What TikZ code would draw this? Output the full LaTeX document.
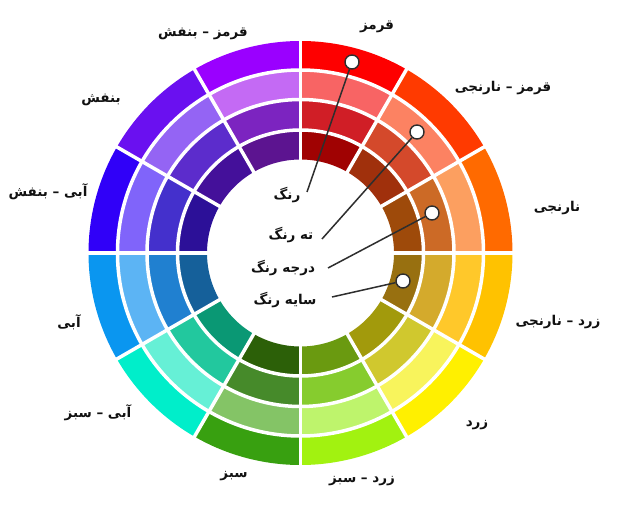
\documentclass[tikz,border=0pt]{standalone}
\usepackage{fontspec}
\newfontfamily\fa[Script=Arabic]{DejaVu Sans}
\TeXXeTstate=1
\definecolor{A1}{HTML}{FE0000}\definecolor{A2}{HTML}{F86464}\definecolor{A3}{HTML}{D01E26}\definecolor{A4}{HTML}{A00202}
\definecolor{B1}{HTML}{FF3A00}\definecolor{B2}{HTML}{FC8262}\definecolor{B3}{HTML}{D4492B}\definecolor{B4}{HTML}{A0300C}
\definecolor{C1}{HTML}{FF6A00}\definecolor{C2}{HTML}{FC9F60}\definecolor{C3}{HTML}{CC6A26}\definecolor{C4}{HTML}{9E4A0A}
\definecolor{D1}{HTML}{FFC200}\definecolor{D2}{HTML}{FFC82A}\definecolor{D3}{HTML}{D4AA2C}\definecolor{D4}{HTML}{987010}
\definecolor{E1}{HTML}{FFF000}\definecolor{E2}{HTML}{F8F45C}\definecolor{E3}{HTML}{D0C82E}\definecolor{E4}{HTML}{A29A0C}
\definecolor{F1}{HTML}{A2F210}\definecolor{F2}{HTML}{BEF46C}\definecolor{F3}{HTML}{86CC2E}\definecolor{F4}{HTML}{6A9A10}
\definecolor{G1}{HTML}{38A010}\definecolor{G2}{HTML}{84C466}\definecolor{G3}{HTML}{468A2A}\definecolor{G4}{HTML}{2C6008}
\definecolor{H1}{HTML}{00EECA}\definecolor{H2}{HTML}{66F0D6}\definecolor{H3}{HTML}{22C89E}\definecolor{H4}{HTML}{0A9874}
\definecolor{I1}{HTML}{0A96F0}\definecolor{I2}{HTML}{5CB4F4}\definecolor{I3}{HTML}{2080D0}\definecolor{I4}{HTML}{15609A}
\definecolor{J1}{HTML}{3000F8}\definecolor{J2}{HTML}{8064FA}\definecolor{J3}{HTML}{4430CC}\definecolor{J4}{HTML}{2C1098}
\definecolor{K1}{HTML}{6A10F0}\definecolor{K2}{HTML}{9464F4}\definecolor{K3}{HTML}{5C2CCC}\definecolor{K4}{HTML}{44109A}
\definecolor{L1}{HTML}{9A00FF}\definecolor{L2}{HTML}{C46AF4}\definecolor{L3}{HTML}{7C24C0}\definecolor{L4}{HTML}{5C1490}
\definecolor{ink}{HTML}{111111}
\definecolor{leadc}{HTML}{2E2E2E}
\begin{document}
\begin{tikzpicture}[x=1pt,y=1pt,
  lbl/.style={font=\fa\bfseries\fontsize{13.5}{15}\selectfont, text=ink, inner sep=0pt},
  dot/.style={circle, draw=leadc, fill=white, line width=1.4pt, minimum size=14pt, inner sep=0pt},
  lead/.style={draw=leadc, line width=1.5pt},
  gap/.style={draw=white, line width=3.5pt}]
\useasboundingbox (0,0) rectangle (624,520);
\fill[white] (0,0) rectangle (624,520);
\begin{scope}[shift={(300.5,267)}]
\foreach \s/\a in {A/60,B/30,C/0,D/-30,E/-60,F/-90,G/-120,H/-150,I/-180,J/150,K/120,L/90}{
  \pgfmathsetmacro\b{\a+30}
  \foreach \k/\r/\R in {1/183/212,2/153.5/183,3/123/153.5,4/93.5/123}{
    \fill[\s\k] (\a:\r pt) -- (\a:\R pt) arc[start angle=\a, end angle=\b, radius=\R pt] -- (\b:\r pt) arc[start angle=\b, end angle=\a, radius=\r pt] -- cycle;
  }
}
\foreach \r in {123,153.5,183} \draw[gap] (0,0) circle[radius=\r pt];
\foreach \a in {0,30,...,330} \draw[gap] (\a:92pt) -- (\a:213pt);
\end{scope}
% outer labels
\node[lbl] (t1) at (377,493) {\beginR قرمز\endR};
\node[lbl] (t2) at (503,432) {\beginR قرمز – نارنجی\endR};
\node[lbl] (t3) at (557,312) {\beginR نارنجی\endR};
\node[lbl] (t4) at (558,198) {\beginR زرد – نارنجی\endR};
\node[lbl] (t5) at (477,95) {\beginR زرد\endR};
\node[lbl] (t6) at (362,39) {\beginR زرد – سبز\endR};
\node[lbl] (t7) at (234,44) {\beginR سبز\endR};
\node[lbl] (t8) at (98,107) {\beginR آبی – سبز\endR};
\node[lbl] (t9) at (69,198) {\beginR آبی\endR};
\node[lbl] (t10) at (48,328) {\beginR آبی – بنفش\endR};
\node[lbl] (t11) at (101,420) {\beginR بنفش\endR};
\node[lbl] (t12) at (203,486) {\beginR قرمز – بنفش\endR};
% centre labels
\node[lbl] (h1) at (287,325) {\beginR رنگ\endR};
\node[lbl] (h2) at (291,285) {\beginR ته رنگ\endR};
\node[lbl] (h3) at (283,252) {\beginR درجه رنگ\endR};
\node[lbl] (h4) at (285,220) {\beginR سایه رنگ\endR};
% markers
\node[dot] (c1) at (352,458) {};
\node[dot] (c2) at (417,388) {};
\node[dot] (c3) at (432,307) {};
\node[dot] (c4) at (403,239) {};
\coordinate (e1) at (307,328);
\coordinate (e2) at (322,281);
\coordinate (e3) at (328,252);
\coordinate (e4) at (332,223);
\draw[lead] (e1) -- (c1);
\draw[lead] (e2) -- (c2);
\draw[lead] (e3) -- (c3);
\draw[lead] (e4) -- (c4);
\end{tikzpicture}
\end{document}
